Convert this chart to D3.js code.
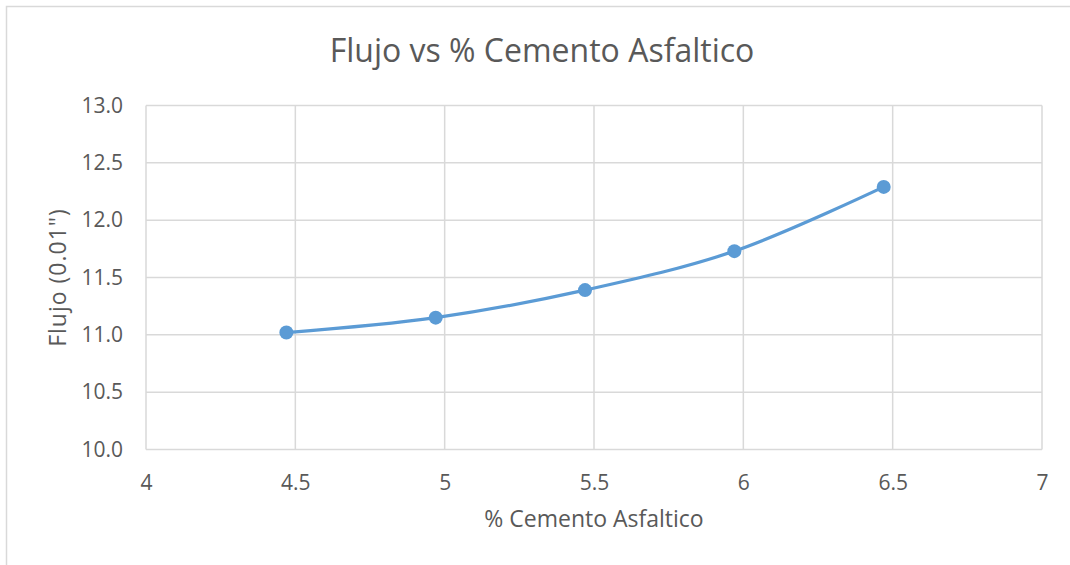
<!DOCTYPE html>
<head>
  <title>Flujo vs % Cemento Asfaltico</title>
  <script src="https://d3js.org/d3.v7.min.js"></script>
  <style>
    body { margin: 0; background: #fff; }
    text { font-family: "Open Sans", "Liberation Sans", sans-serif; fill: #595959; }
    .grid line { stroke: #d9d9d9; stroke-width: 1.5; }
    .axis path, .axis line { display: none; }
  </style>
</head>
<body>
  <svg width="1070" height="565"></svg>
  <script>
    // data
    const cemento = [4.47, 4.97, 5.47, 5.97, 6.47];
    const flujo   = [11.02, 11.15, 11.39, 11.73, 12.29];
    const xTicks  = [4, 4.5, 5, 5.5, 6, 6.5, 7];
    const yTicks  = [10, 10.5, 11, 11.5, 12, 12.5, 13];

    const svg    = d3.select("svg"),
          margin = {top: 105.5, right: 28, bottom: 115.5, left: 146},
          width  = +svg.attr("width")  - margin.left - margin.right,
          height = +svg.attr("height") - margin.top  - margin.bottom,
          x      = d3.scaleLinear().domain([4, 7]).range([0, width]),
          y      = d3.scaleLinear().domain([10, 13]).range([height, 0]);

    // outer chart border (only top/left visible in frame)
    svg.append("rect")
      .attr("x", 6.5).attr("y", 6.5)
      .attr("width", 1100).attr("height", 600)
      .attr("fill", "none").attr("stroke", "#d9d9d9").attr("stroke-width", 1.5);

    const g = svg.append("g")
      .attr("transform", `translate(${margin.left},${margin.top})`);

    // gridlines
    g.append("g").attr("class", "grid")
      .selectAll("line").data(yTicks).enter().append("line")
      .attr("x1", 0).attr("x2", width)
      .attr("y1", d => y(d)).attr("y2", d => y(d));
    g.append("g").attr("class", "grid")
      .selectAll("line").data(xTicks).enter().append("line")
      .attr("x1", d => x(d)).attr("x2", d => x(d))
      .attr("y1", 0).attr("y2", height);

    // axes (labels only)
    g.append("g")
      .attr("class", "axis")
      .attr("transform", `translate(0,${height})`)
      .call(d3.axisBottom(x).tickValues(xTicks).tickFormat(d3.format("")).tickSize(0).tickPadding(26))
      .selectAll("text").style("font-size", "21px").style("fill", "#595959");
    g.append("g")
      .attr("class", "axis")
      .call(d3.axisLeft(y).tickValues(yTicks).tickFormat(d3.format(".1f")).tickSize(0).tickPadding(23))
      .selectAll("text").style("font-size", "21px").style("fill", "#595959");

    // smoothed line + markers
    const pts = cemento.map((c, i) => [c, flujo[i]]);
    g.append("path")
      .datum(pts)
      .attr("fill", "none")
      .attr("stroke", "#5b9bd5")
      .attr("stroke-width", 3.2)
      .attr("stroke-linecap", "round")
      .attr("d", d3.line().x(d => x(d[0])).y(d => y(d[1])).curve(d3.curveCatmullRom.alpha(0.5)));
    g.selectAll(".dot")
      .data(pts)
      .enter().append("circle")
      .attr("class", "dot")
      .attr("cx", d => x(d[0]))
      .attr("cy", d => y(d[1]))
      .attr("r", 7)
      .attr("fill", "#5b9bd5");

    // titles
    svg.append("text")
      .attr("x", 542).attr("y", 62)
      .attr("text-anchor", "middle")
      .style("font-size", "32px")
      .text("Flujo vs % Cemento Asfaltico");
    svg.append("text")
      .attr("x", margin.left + width / 2).attr("y", 527)
      .attr("text-anchor", "middle")
      .style("font-size", "23px")
      .text("% Cemento Asfaltico");
    svg.append("text")
      .attr("transform", `translate(66,${margin.top + height / 2}) rotate(-90)`)
      .attr("text-anchor", "middle")
      .style("font-size", "23px")
      .style("letter-spacing", "1px")
      .text("Flujo (0.01\")");
  </script>
</body>
